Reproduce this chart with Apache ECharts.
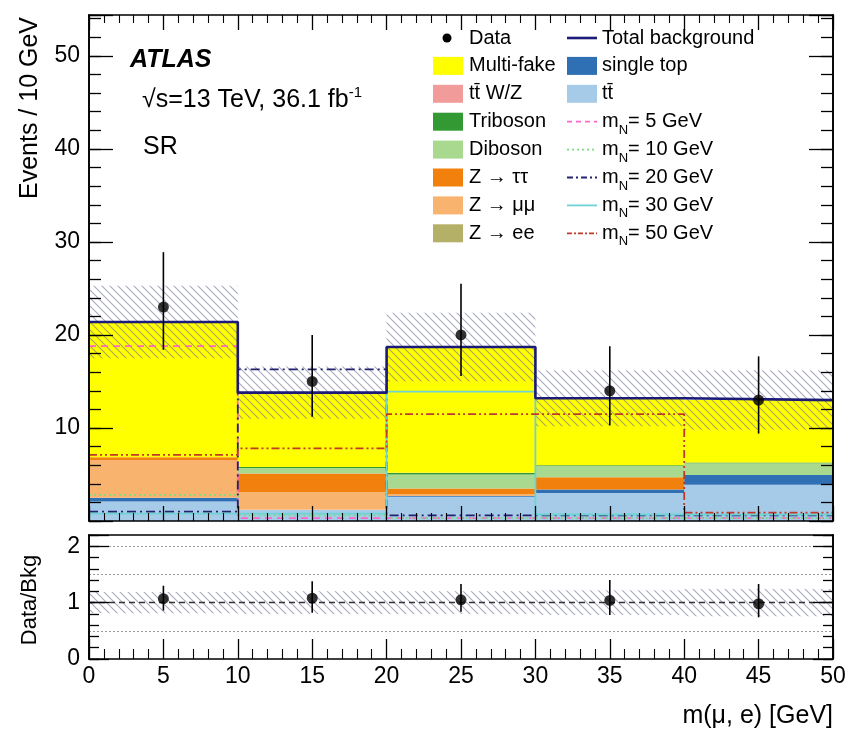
<!DOCTYPE html>
<html><head><meta charset="utf-8">
<script src="https://cdn.jsdelivr.net/npm/echarts@6/dist/echarts.min.js"></script>
<style>html,body{margin:0;padding:0;background:#fff}#c{width:849px;height:734px}</style>
</head><body><div id="c"></div>
<script>
// ---------------- data ----------------
const binEdges   = [0, 10, 20, 30, 40, 50];
const binCenters = [5, 15, 25, 35, 45];
const xTicks     = [0, 5, 10, 15, 20, 25, 30, 35, 40, 45, 50];

// stacked backgrounds, bottom -> top
const ttbar      = [2.1, 1.2, 2.6, 3.0, 3.9];
const singleTop  = [0.4, 0.0, 0.1, 0.4, 1.05];
const zee        = [0.0, 0.0, 0.0, 0.0, 0.0];
const zmumu      = [4.05, 1.9, 0.2, 0.0, 0.0];
const ztautau    = [0.3, 2.0, 0.6, 1.3, 0.0];
const diboson    = [0.0, 0.6, 1.5, 1.2, 1.25];
const triboson   = [0.0, 0.1, 0.15, 0.1, 0.1];
const ttWZ       = [0.0, 0.0, 0.05, 0.0, 0.0];
const multiFake  = [14.55, 8.0, 13.5, 7.2, 6.7];

const totalBkg   = [21.4, 13.8, 18.7, 13.2, 13.0];
const bkgUnc     = [3.9, 2.8, 3.7, 3.0, 3.2];

const dataVals   = [23, 15, 20, 14, 13];
const dataLo     = [18.4, 11.2, 15.6, 10.3, 9.4];
const dataHi     = [28.9, 20.0, 25.5, 18.8, 17.7];

// signals
const sigMN5     = [18.8, 0.3, 0.3, 0.3, 0.3];
const sigMN10    = [2.8, 0.6, 0.3, 0.3, 0.3];
const sigMN20    = [1.0, 16.3, 0.6, 0.6, 0.6];
const sigMN30    = [0.8, 0.8, 13.9, 0.7, 0.7];
const sigMN50    = [7.1, 7.8, 11.5, 11.5, 0.9];

// ratio panel
const ratioVals  = [1.07, 1.08, 1.05, 1.04, 0.98];
const ratioLo    = [0.86, 0.82, 0.84, 0.78, 0.74];
const ratioHi    = [1.30, 1.38, 1.33, 1.40, 1.33];
const ratioUnc   = [0.19, 0.20, 0.20, 0.22, 0.24];
const ratioRefDotted = [0.5, 1.5, 2.0];
const ratioRefDashed = [1.0];

// ---------------- styling ----------------
const FF = "'Liberation Sans', Arial, Helvetica, sans-serif";
const C = {
  ttbar:'#a6cbe8', singleTop:'#2e70b3', zee:'#b5b068', zmumu:'#f8b46e', ztautau:'#f2800d',
  diboson:'#a9d98f', triboson:'#339933', ttWZ:'#f29b9b', multiFake:'#ffff00',
  total:'#1c1c78', m5:'#ff66cc', m10:'#7ddc7d', m20:'#22226e', m30:'#6fd3d3', m50:'#c0392b'
};
const sigStyles = [
  {vals:sigMN5,  color:C.m5,  type:[7,5]},
  {vals:sigMN10, color:C.m10, type:[2,3]},
  {vals:sigMN20, color:C.m20, type:[9,4,2,4]},
  {vals:sigMN30, color:C.m30, type:'solid'},
  {vals:sigMN50, color:C.m50, type:[8,3,2,3,2,3]}
];

function hatchCanvas(color){
  const s = 8, c = document.createElement('canvas');
  c.width = s; c.height = s;
  const g = c.getContext('2d');
  g.strokeStyle = color; g.lineWidth = 1.1;
  g.beginPath();
  g.moveTo(-1,-1); g.lineTo(s+1,s+1);
  g.moveTo(-2,s-2); g.lineTo(2,s+2);
  g.moveTo(s-2,-2); g.lineTo(s+2,2);
  g.stroke();
  return c;
}
const hatchFill = {image: hatchCanvas('rgba(110,110,150,0.6)'), repeat:'repeat'};

function rectRender(fill){
  return function(params, api){
    const a = api.coord([api.value(0), api.value(3)]);
    const b = api.coord([api.value(1), api.value(2)]);
    return {type:'rect', shape:{x:a[0], y:a[1], width:b[0]-a[0], height:b[1]-a[1]}, style:{fill:fill}};
  };
}
function errRender(params, api){
  const a = api.coord([api.value(0), api.value(1)]);
  const b = api.coord([api.value(0), api.value(2)]);
  return {type:'line', shape:{x1:a[0], y1:a[1], x2:b[0], y2:b[1]}, style:{stroke:'#000', lineWidth:1.6}};
}
function stepPts(vals){
  const pts = [];
  vals.forEach((v,i)=>{ pts.push([binEdges[i], v]); pts.push([binEdges[i+1], v]); });
  return pts;
}

const series = [];
// stack
const comps = [
  {vals:ttbar, color:C.ttbar}, {vals:singleTop, color:C.singleTop}, {vals:zee, color:C.zee},
  {vals:zmumu, color:C.zmumu}, {vals:ztautau, color:C.ztautau}, {vals:diboson, color:C.diboson},
  {vals:triboson, color:C.triboson}, {vals:ttWZ, color:C.ttWZ}, {vals:multiFake, color:C.multiFake}
];
let base = [0,0,0,0,0];
comps.forEach(c=>{
  const data = c.vals.map((v,i)=>[binEdges[i], binEdges[i+1], base[i], base[i]+v]);
  base = base.map((b,i)=>b + c.vals[i]);
  series.push({type:'custom', xAxisIndex:0, yAxisIndex:0, z:2, silent:true,
    renderItem: rectRender(c.color), encode:{x:[0,1], y:[2,3]}, data});
});
// uncertainty band
series.push({type:'custom', xAxisIndex:0, yAxisIndex:0, z:3, silent:true,
  renderItem: rectRender(hatchFill), encode:{x:[0,1], y:[2,3]},
  data: totalBkg.map((v,i)=>[binEdges[i], binEdges[i+1], v-bkgUnc[i], v+bkgUnc[i]])});
// signals
sigStyles.forEach(s=>{
  series.push({type:'line', xAxisIndex:0, yAxisIndex:0, z:4, silent:true, showSymbol:false, symbol:'none',
    data: stepPts(s.vals), lineStyle:{color:s.color, width:1.8, type:s.type}});
});
// total background
series.push({type:'line', xAxisIndex:0, yAxisIndex:0, z:5, silent:true, symbol:'none',
  data: stepPts(totalBkg), lineStyle:{color:C.total, width:2.6}});
// data
series.push({type:'custom', xAxisIndex:0, yAxisIndex:0, z:6, silent:true, renderItem: errRender,
  encode:{x:0, y:[1,2]}, data: binCenters.map((x,i)=>[x, dataLo[i], dataHi[i]])});
series.push({type:'scatter', xAxisIndex:0, yAxisIndex:0, z:7, silent:true, symbolSize:11,
  itemStyle:{color:'#000'}, data: binCenters.map((x,i)=>[x, dataVals[i]])});

// ratio panel
series.push({type:'custom', xAxisIndex:2, yAxisIndex:4, z:3, silent:true,
  renderItem: rectRender(hatchFill), encode:{x:[0,1], y:[2,3]},
  data: ratioUnc.map((u,i)=>[binEdges[i], binEdges[i+1], 1-u, 1+u]),
  markLine:{silent:true, symbol:'none', label:{show:false},
    data: ratioRefDotted.map(v=>({yAxis:v, lineStyle:{color:'#999', width:1.2, type:[2,2]}}))
      .concat(ratioRefDashed.map(v=>({yAxis:v, lineStyle:{color:'#333', width:1.3, type:[6,4]}})))}});
series.push({type:'custom', xAxisIndex:2, yAxisIndex:4, z:6, silent:true, renderItem: errRender,
  encode:{x:0, y:[1,2]}, data: binCenters.map((x,i)=>[x, ratioLo[i], ratioHi[i]])});
series.push({type:'scatter', xAxisIndex:2, yAxisIndex:4, z:7, silent:true, symbolSize:11,
  itemStyle:{color:'#000'}, data: binCenters.map((x,i)=>[x, ratioVals[i]])});

// ---------------- axes ----------------
function xAx(grid, pos, len, minorLen, labels){
  return {type:'value', gridIndex:grid, position:pos, min:xTicks[0], max:xTicks[xTicks.length-1],
    interval:xTicks[1]-xTicks[0], z:10,
    axisLine:{show:true, onZero:false, lineStyle:{color:'#000', width:1.6}},
    axisTick:{show:len>0, inside:true, length:len, lineStyle:{color:'#000', width:1.3}},
    minorTick:{show:minorLen>0, splitNumber:5, length:minorLen, lineStyle:{color:'#000', width:1.1}},
    axisLabel: labels ? {show:true, color:'#000', fontSize:23, fontFamily:FF, margin:6} : {show:false},
    splitLine:{show:false}, minorSplitLine:{show:false}};
}
function yAx(grid, pos, min, max, interval, len, fmt){
  return {type:'value', gridIndex:grid, position:pos, min, max, interval, z:10,
    axisLine:{show:true, onZero:false, lineStyle:{color:'#000', width:1.6}},
    axisTick:{show:true, inside:true, length:len, lineStyle:{color:'#000', width:1.3}},
    axisLabel: fmt ? {show:true, color:'#000', fontSize:23, fontFamily:FF, margin:9, formatter:fmt,
                      showMinLabel:true, showMaxLabel:true} : {show:false},
    splitLine:{show:false}, minorTick:{show:false}};
}
const mainFmt = v => (v > 0 && Math.abs(v % 10) < 1e-6) ? String(Math.round(v)) : '';
const ratioFmt = v => (Math.abs(v - Math.round(v)) < 1e-6 && v <= 2) ? String(Math.round(v)) : '';

// ---------------- text / legend ----------------
const graphics = [];
function txt(x, y, t, o){
  graphics.push({type:'text', x, y, z:100, silent:true,
    style:Object.assign({text:t, fill:'#000', fontFamily:FF, fontSize:20, align:'left', verticalAlign:'middle'}, o||{})});
}
txt(130, 60, 'ATLAS', {fontSize:25, fontWeight:'bold', fontStyle:'italic'});
txt(142, 100, '√s=13 TeV, 36.1 fb{sup|-1}', {fontSize:25,
  rich:{sup:{fontSize:15, fontFamily:FF, fill:'#000', verticalAlign:'top', lineHeight:30}}});
txt(143, 147, 'SR', {fontSize:25});

graphics.push({type:'text', x:30, y:108, rotation:Math.PI/2, z:100, silent:true,
  style:{text:'Events / 10 GeV', fill:'#000', fontFamily:FF, fontSize:25, align:'center', verticalAlign:'middle'}});
graphics.push({type:'text', x:30, y:600, rotation:Math.PI/2, z:100, silent:true,
  style:{text:'Data/Bkg', fill:'#000', fontFamily:FF, fontSize:22, align:'center', verticalAlign:'middle'}});
txt(833, 716, 'm(μ, e) [GeV]', {fontSize:25, align:'right'});

const legendCol1 = [
  {label:'Data', dot:true},
  {label:'Multi-fake', color:C.multiFake},
  {label:'tt̄ W/Z', color:C.ttWZ},
  {label:'Triboson', color:C.triboson},
  {label:'Diboson', color:C.diboson},
  {label:'Z → ττ', color:C.ztautau},
  {label:'Z → μμ', color:C.zmumu},
  {label:'Z → ee', color:C.zee}
];
const legendCol2 = [
  {label:'Total background', line:{color:C.total, type:'solid', width:2.6}},
  {label:'single top', color:C.singleTop},
  {label:'tt̄', color:C.ttbar},
  {label:'m{s|N}= 5 GeV', line:{color:C.m5, type:[5,4], width:1.8}},
  {label:'m{s|N}= 10 GeV', line:{color:C.m10, type:[2,3], width:1.8}},
  {label:'m{s|N}= 20 GeV', line:{color:C.m20, type:[6,3,2,3], width:1.8}},
  {label:'m{s|N}= 30 GeV', line:{color:C.m30, type:'solid', width:1.8}},
  {label:'m{s|N}= 50 GeV', line:{color:C.m50, type:[5,2,2,2], width:1.8}}
];
const richSub = {s:{fontSize:13, fontFamily:FF, fill:'#000', verticalAlign:'bottom', lineHeight:30}};
function legendItem(item, row, mx, tx){
  const y = 38 + row * 27.9;
  if (item.dot) {
    graphics.push({type:'circle', z:100, silent:true, shape:{cx:mx+14, cy:y, r:4.5}, style:{fill:'#000'}});
  } else if (item.color) {
    graphics.push({type:'rect', z:100, silent:true, shape:{x:mx, y:y-9, width:30, height:18}, style:{fill:item.color}});
  } else if (item.line) {
    graphics.push({type:'line', z:100, silent:true, shape:{x1:mx, y1:y, x2:mx+30, y2:y},
      style:{stroke:item.line.color, lineWidth:item.line.width, lineDash:item.line.type==='solid'?null:item.line.type}});
  }
  txt(tx, y, item.label, {fontSize:20, rich:richSub});
}
legendCol1.forEach((it,i)=>legendItem(it, i, 433, 469));
legendCol2.forEach((it,i)=>legendItem(it, i, 567, 602));

// ---------------- chart ----------------
const chart = echarts.init(document.getElementById('c'), null, {renderer:'canvas'});
chart.setOption({
  animation:false,
  backgroundColor:'#fff',
  grid:[
    {left:89, top:15, width:744, height:506, show:false, containLabel:false, outerBoundsMode:'none'},
    {left:89, top:535, width:744, height:124, show:false, containLabel:false, outerBoundsMode:'none'}
  ],
  xAxis:[ xAx(0,'bottom',15,8,false), xAx(0,'top',15,8,false), xAx(1,'bottom',20,10,true), xAx(1,'top',0,0,false) ],
  yAxis:[
    yAx(0,'left',0,54.4,10,24,mainFmt), yAx(0,'left',0,54.4,2,12,null),
    yAx(0,'right',0,54.4,10,24,null),  yAx(0,'right',0,54.4,2,12,null),
    yAx(1,'left',0,2.2,1,20,ratioFmt), yAx(1,'left',0,2.2,0.2,10,null),
    yAx(1,'right',0,2.2,1,20,null),    yAx(1,'right',0,2.2,0.2,10,null)
  ],
  series,
  graphic: graphics
});
</script>
</body></html>
